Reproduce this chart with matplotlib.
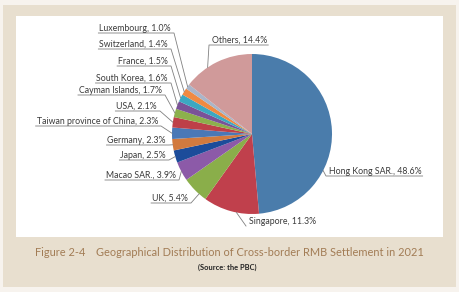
""" Geographical distribution of cross-border RMB settlement in 2021 """
import numpy as np
import matplotlib.pyplot as plt
from matplotlib.patches import Rectangle

# Data, clockwise from 12 o'clock
regions = ["Hong Kong SAR.", "Singapore", "UK", "Macao SAR.", "Japan", "Germany",
           "Taiwan province of China", "USA", "Cayman Islands", "South Korea",
           "France", "Switzerland", "Luxembourg", "Others"]
shares = [48.6, 11.3, 5.4, 3.9, 2.5, 2.3, 2.3, 2.1, 1.7, 1.6, 1.5, 1.4, 1.0, 14.4]

colors = ["#4a7cab", "#c0404c", "#8aae4a", "#8c5aa8", "#1c4c9a", "#d27a3e",
          "#4a78b6", "#be4048", "#8cb04c", "#7a5298", "#3ca8c2", "#f08a42",
          "#a9b5c9", "#d09a9a"]

# Label anchors in pixels (x, y from top), alignment, underline,
# and where (fraction of the slice, clockwise) the leader hits the slice
label_x = [329, 249, 188, 176, 166, 166, 158, 157, 162, 168, 168, 168, 171, 212]
label_y = [171, 221, 198, 175, 155, 140, 121, 106, 90, 78, 61, 44, 28, 40]
label_ha = ["left", "left"] + ["right"] * 11 + ["left"]
underline = [True, False] + [True] * 12
attach = [0.67, 0.4, 0.3, 0.5, 0.5, 0.5, 0.5, 0.5, 0.5, 0.5, 0.5, 0.5, 0.5, 0.35]

W, H = 460, 292
BEIGE = "#e8dfcf"
plt.rcParams['font.family'] = ['Lato', 'DejaVu Sans']


def Y(y):
    """ pixel row from top -> data y """
    return H - y


fig = plt.figure(figsize=(W / 100, H / 100), dpi=100)
fig.patch.set_facecolor("#f7f3ee")
ax = fig.add_axes([0, 0, 1, 1])

# Frame: beige board with a white panel
ax.add_patch(Rectangle((3, Y(287)), 453, 282, facecolor=BEIGE, edgecolor="none", zorder=0))
ax.add_patch(Rectangle((16, Y(237)), 427, 221, facecolor="white", edgecolor="none", zorder=0))

# Pie
cx, cy, r = 252, Y(134), 80
wedges, _ = ax.pie(shares, colors=colors, startangle=90, counterclock=False,
                   center=(cx, cy), radius=r, wedgeprops=dict(linewidth=0))
ax.set_xlim(0, W)
ax.set_ylim(0, H)
ax.set_aspect("equal")
ax.set_axis_off()

# Labels
texts = []
for name, v, x, y, ha in zip(regions, shares, label_x, label_y, label_ha):
    t = ax.text(x, Y(y), f"{name}, {v:.1f}%", ha=ha, va="center",
                fontsize=6.3, color="#3a3a3a", zorder=3)
    texts.append(t)

fig.canvas.draw()
renderer = fig.canvas.get_renderer()
inv = ax.transData.inverted()

for t, w, ha, ul, frac in zip(texts, wedges, label_ha, underline, attach):
    bb = t.get_window_extent(renderer).transformed(inv)
    uy = bb.y0 - 0.5
    if ha == "right":
        end = bb.x1 + 3
        start = bb.x0 - 1
    else:
        end = bb.x0 - 3
        start = bb.x1 + 1
    # point on the slice edge (slices run clockwise from theta2 to theta1)
    ang = np.deg2rad(w.theta2 - frac * (w.theta2 - w.theta1))
    px, py = cx + r * np.cos(ang), cy + r * np.sin(ang)
    if ul:
        ax.plot([start, end, px], [uy, uy, py], color="#808080", lw=0.6, zorder=2)
    else:
        ax.plot([end, px], [uy, py], color="#808080", lw=0.6, zorder=2)

# Caption
ax.text(35, Y(253), "Figure 2-4", ha="left", va="center", fontsize=7.9, color="#a27c55")
ax.text(96, Y(253), "Geographical Distribution of Cross-border RMB Settlement in 2021",
        ha="left", va="center", fontsize=7.9, color="#a27c55")
ax.text(227, Y(267), "(Source: the PBC)", ha="center", va="center", fontsize=5.4,
        color="#222222", fontweight="bold")

fig.savefig("out.png", dpi=100, facecolor=fig.get_facecolor())
